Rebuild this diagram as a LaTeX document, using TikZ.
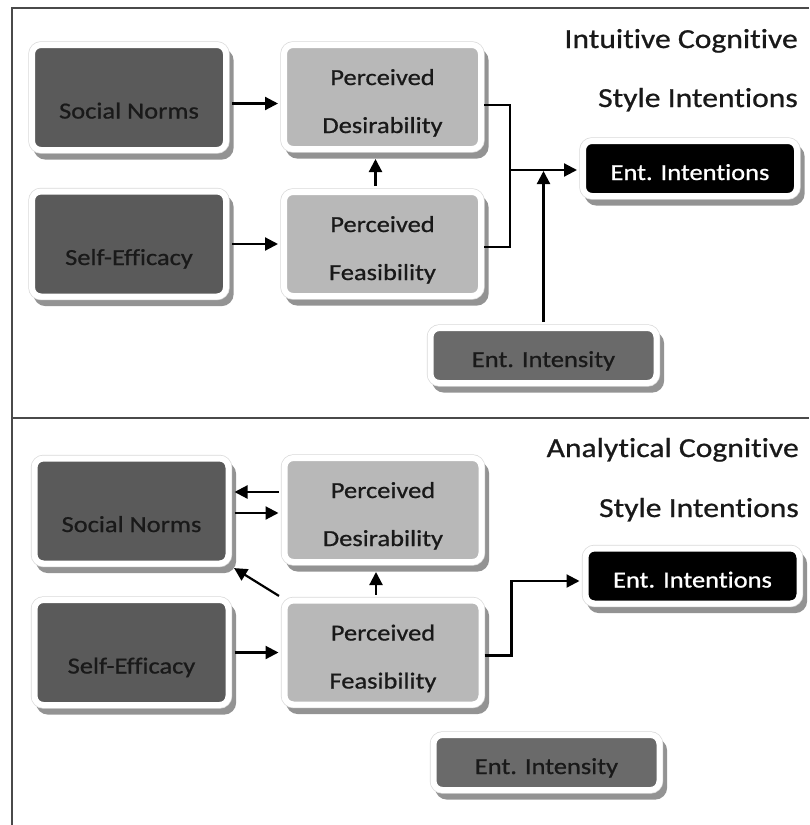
\documentclass[tikz,border=0pt]{standalone}
\usepackage{fontspec}
\setmainfont{Carlito}[FakeStretch=1.15, FakeBold=0.8, Ligatures=NoCommon]
\usepackage{xcolor}
\definecolor{slate}{HTML}{5A5A5A}
\definecolor{mist}{HTML}{B8B8B8}
\definecolor{ash}{HTML}{6A6A6A}
\definecolor{framegray}{HTML}{4A4A4A}
\usepackage{tikz}
\usetikzlibrary{arrows.meta,shadows}

\begin{document}
\begin{tikzpicture}[x=1pt, y=-1pt,
    box/.style={rounded corners=9pt, draw=white, line width=6pt, inner sep=0pt,
      font=\fontsize{23}{28}\selectfont, text=black!90,
      drop shadow={shadow xshift=4.6pt, shadow yshift=-6.6pt, opacity=1,
        fill=gray!85, draw=gray!85, line width=6pt},
      preaction={draw=gray!30, line width=7.4pt}},
    darkbox/.style={box, fill=slate, minimum width=194pt, minimum height=105pt,
      text height=42pt, text depth=0pt},
    lightbox/.style={box, fill=mist, minimum width=197pt, minimum height=104pt,
      align=center, font=\fontsize{23}{48}\selectfont, text height=72pt, text depth=0pt},
    blackbox/.style={box, fill=black, text=white, minimum width=214pt, minimum height=55pt,
      text height=23pt, text depth=0pt},
    midbox/.style={box, fill=ash, minimum width=226pt, minimum height=55pt,
      text height=23pt, text depth=0pt},
    link/.style={-{Triangle[length=13pt,width=13pt]}, line width=2.2pt,
      shorten <=3pt, shorten >=3pt},
    wire/.style={line width=2.2pt},
    title/.style={anchor=base east, inner sep=0pt, text=black!90,
      font=\fontsize{27.5}{33}\selectfont}]
    \useasboundingbox (0,0) rectangle (809,825);
    % frame
    \draw[framegray, line width=1.2pt] (809,8) -- (12,8) -- (12,825);
    \draw[framegray, line width=1.2pt] (12,418) -- (809,418);

    % intuitive style
    \node[darkbox] (sn1) at (129,97.5) {Social Norms};
    \node[darkbox] (se1) at (129,244) {Self-Efficacy};
    \node[lightbox] (pd1) at (382.5,97) {Perceived\\Desirability};
    \node[lightbox] (pf1) at (382.5,244) {Perceived\\Feasibility};
    \node[blackbox] (ei1) at (690,168.5) {Ent. Intentions};
    \node[midbox] (ey1) at (543.5,355.5) {Ent. Intensity};
    \node[title] (tl1) at (798,48) {Intuitive Cognitive};
    \node[title] (tl2) at (798,107) {Style Intentions};
    \draw[link] ([yshift=-6pt]sn1.east) -- ([yshift=-6pt]sn1.east -| pd1.west);
    \draw[link] (se1.east) -- (pf1.west);
    \draw[link, shorten >=7pt] ([xshift=-7pt]pf1.north) -- ([xshift=-7pt]pd1.south);
    \coordinate (j1) at (510,170);
    \draw[wire] ([yshift=-8pt]pd1.east) -| (j1) |- ([yshift=-3pt]pf1.east);
    \draw[link, shorten <=0pt] (j1) -- (j1 -| ei1.west);
    \draw[link, shorten >=1pt] (ey1.north) -- (ey1.north |- j1);

    % analytical style
    \node[darkbox] (sn2) at (131.5,511) {Social Norms};
    \node[darkbox] (se2) at (131.5,652.5) {Self-Efficacy};
    \node[lightbox] (pd2) at (383,510) {Perceived\\Desirability};
    \node[lightbox] (pf2) at (383,652.5) {Perceived\\Feasibility};
    \node[blackbox] (ei2) at (692.5,576) {Ent. Intentions};
    \node[midbox] (ey2) at (546.5,762.5) {Ent. Intensity};
    \node[title] (tl3) at (799,457) {Analytical Cognitive};
    \node[title] (tl4) at (799,517) {Style Intentions};
    \draw[link] ([yshift=18pt]pd2.west) -- ([yshift=18pt]pd2.west -| sn2.east);
    \draw[link] ([yshift=-2pt]sn2.east) -- ([yshift=-2pt]sn2.east -| pd2.west);
    \draw[link] (pf2.north west) -- (sn2.south east);
    \draw[link, shorten >=7pt] ([xshift=-7pt]pf2.north) -- ([xshift=-7pt]pd2.south);
    \draw[link] (se2.east) -- (pf2.west);
    \draw[link, shorten <=0pt] ([yshift=-3pt]pf2.east) -- ++(27,0) |- ([yshift=-5pt]ei2.west);
\end{tikzpicture}
\end{document}
